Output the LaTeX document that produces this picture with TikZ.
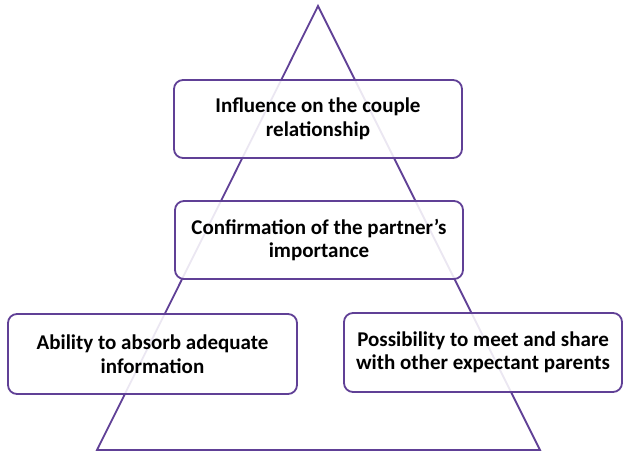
\documentclass[tikz,border=0pt]{standalone}
\usepackage{fontspec}
\setmainfont{Carlito}
\usepackage{tikz}
\usetikzlibrary{positioning}
\definecolor{violetline}{RGB}{96,64,150}

\begin{document}
\begin{tikzpicture}
  [
    x=1pt, y=1pt,
    Box/.style={rectangle, rounded corners=9pt, draw=violetline, line width=1.8pt,
      fill=white, fill opacity=0.88, text opacity=1, align=center,
      font=\fontsize{21}{23.5}\selectfont\bfseries, minimum height=78pt, inner sep=0pt},
    Edge/.style={draw=violetline, line width=1.8pt, line join=miter}
  ]
  \useasboundingbox (0,0) rectangle (624,453);

  % Triangle
  \coordinate (top) at (318, 447);
  \coordinate (bl) at (97, 3);
  \coordinate (br) at (540, 3);
  \path [Edge] (top) -- (bl) -- (br) -- cycle;

  % Nodes
  \node[Box, minimum width=288pt] (couple) at (318, 334) {Influence on the couple\\relationship};

  \node[Box, minimum width=288pt] (partner) at (319, 213) {Confirmation of the partner’s\\importance};

  \node[Box, minimum width=289pt, minimum height=80pt] (absorb) at (152.5, 99) {Ability to absorb adequate\\information};

  \node[Box, minimum width=278pt, minimum height=79pt] (share) at (483, 100.5) {Possibility to meet and share\\with other expectant parents};

\end{tikzpicture}
\end{document}
